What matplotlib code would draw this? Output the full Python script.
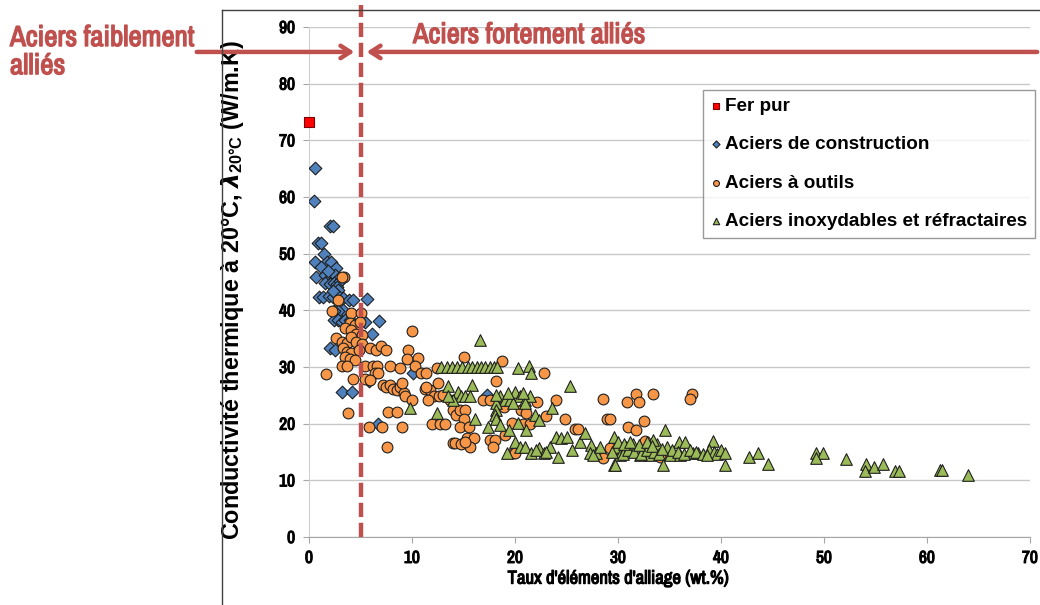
import matplotlib.pyplot as plt
import matplotlib.patheffects as pe
from matplotlib.lines import Line2D

narrow = ['Liberation Sans Narrow', 'Arial Narrow', 'Archivo Narrow', 'Roboto Condensed', 'DejaVu Sans']
arial = ['Liberation Sans', 'DejaVu Sans']
plt.rcParams['font.family'] = arial
plt.rcParams['font.weight'] = 'bold'

rouge = '#C0504D'
# the narrow face has no bold file here: thicken it with a stroke
gras_noir = [pe.withStroke(linewidth=0.8, foreground='black')]
gras_rouge = [pe.withStroke(linewidth=1.0, foreground=rouge)]

# Fer pur
fer_x = [0.0]
fer_y = [73.3]

# Aciers de construction
constr_x = [0.55, 0.5, 2.0, 2.3, 0.84, 1.17, 1.46, 0.55, 1.7, 2.1, 1.2, 2.6, 0.68, 1.6, 1.9,
            2.2, 2.5, 2.8, 1.6, 2.0, 2.4, 2.7, 3.0, 2.7, 2.8, 1.0, 1.4, 1.9, 2.3, 2.7, 3.3,
            3.9, 4.3, 5.6, 3.3, 2.8, 2.4, 2.4, 2.8, 3.2, 3.5, 4.0, 5.4, 6.8, 6.1, 2.0, 2.5,
            3.2, 4.2, 10.1, 5.8, 6.7, 17.3, 1.8, 2.3]
constr_y = [65.1, 59.3, 54.9, 54.9, 51.8, 51.8, 50.0, 48.6, 48.6, 48.6, 47.7, 47.4, 45.9, 46.2, 45.5,
            45.0, 46.2, 45.5, 44.8, 44.6, 44.8, 44.6, 45.2, 44.2, 43.6, 42.3, 42.3, 42.5, 42.3, 42.7, 42.1,
            41.8, 41.8, 42.0, 40.0, 39.9, 39.8, 38.3, 38.3, 38.0, 38.3, 38.3, 38.0, 38.1, 35.9, 33.4, 33.0,
            25.6, 25.6, 29.0, 27.5, 19.9, 25.1, 47.0, 43.4]

# Aciers a outils
outils_x = [3.4, 3.2, 2.8, 2.2, 4.1, 5.0, 4.0, 4.5, 4.95, 3.5, 4.1, 4.6, 5.1, 9.97, 2.6, 3.2,
            3.7, 4.1, 4.6, 5.1, 5.9, 6.5, 7.0, 7.5, 9.6, 3.3, 3.7, 4.1, 3.5, 4.0, 4.5, 4.9,
            9.5, 10.6, 3.2, 3.7, 5.4, 6.2, 6.6, 7.9, 8.8, 10.3, 12.4, 6.4, 6.7, 10.9, 11.4,
            1.65, 4.3, 5.4, 5.9, 7.2, 7.5, 7.9, 8.2, 8.5, 8.8, 9.2, 9.3, 10.0, 11.3, 11.7,
            12.1, 11.6, 12.6, 13.0, 14.0, 14.3, 7.7, 8.5, 3.8, 5.85, 7.1, 9.0, 11.9, 12.7,
            13.2, 7.6, 14.0, 15.0, 18.7, 22.8, 18.2, 24.0, 28.5, 28.9, 24.9, 23.0, 16.9, 17.6,
            22.1, 20.6, 21.1, 19.7, 20.8, 21.5, 13.7, 14.7, 15.1, 15.0, 14.7, 15.5, 15.3, 16.0,
            14.2, 14.8, 15.6, 15.1, 17.6, 18.1, 17.9, 19.0, 19.8, 25.8, 26.1, 28.5, 31.7, 33.4,
            37.2, 37.0, 30.9, 32.0, 29.2, 32.5, 31.0, 31.7, 32.6, 34.1, 12.5, 9.0, 11.4, 18.9,
            29.2, 20.0]
outils_y = [45.9, 45.9, 41.9, 39.9, 39.5, 39.6, 37.7, 37.4, 38.0, 36.8, 36.5, 35.9, 35.6, 36.4, 35.1, 34.5,
            34.2, 35.3, 34.5, 34.1, 33.3, 33.0, 33.7, 33.0, 33.0, 33.3, 32.7, 32.4, 31.8, 31.5, 31.2, 33.0,
            31.5, 31.6, 30.2, 30.2, 30.2, 30.2, 30.2, 30.2, 29.8, 30.2, 29.9, 29.0, 28.9, 28.9, 28.9,
            28.7, 27.8, 27.8, 27.7, 26.8, 26.5, 26.8, 26.2, 25.9, 26.5, 25.4, 24.8, 24.2, 26.2, 25.9,
            24.8, 24.2, 24.8, 25.1, 22.4, 21.5, 22.1, 22.1, 21.9, 19.4, 19.5, 19.5, 19.9, 19.9,
            19.9, 15.8, 16.6, 31.8, 31.1, 28.9, 27.5, 24.2, 24.3, 20.8, 20.9, 21.4, 24.2, 24.1,
            23.9, 22.4, 21.8, 20.2, 19.9, 19.9, 24.2, 22.4, 22.4, 20.9, 19.5, 19.5, 17.4, 17.4,
            16.6, 16.4, 15.9, 16.8, 17.1, 17.2, 15.9, 18.0, 14.8, 19.0, 19.0, 14.0, 25.2, 25.2,
            25.2, 24.4, 23.9, 23.9, 20.8, 20.5, 19.5, 18.9, 16.9, 14.2, 27.1, 27.1, 26.4, 23.0,
            15.7, 14.8]

# Aciers inoxydables et refractaires
inox_x = [12.8, 13.4, 13.9, 14.4, 14.9, 15.4, 15.8, 16.3, 16.7, 17.1, 17.6, 18.0, 18.3, 20.3, 21.4,
          21.6, 16.6, 15.8, 13.5, 25.3, 9.8, 12.4, 14.5, 14.8, 15.1, 15.6, 14.0, 13.5, 18.5, 19.0,
          19.5, 20.0, 20.5, 21.0, 21.5, 19.8, 21.0, 18.2, 18.2, 19.3, 20.8, 18.2, 18.1, 18.2, 16.1,
          17.4, 18.5, 20.3, 21.1, 21.9, 22.3, 23.6, 19.4, 20.0, 20.5, 21.0, 19.2, 21.6, 22.3, 22.8,
          23.4, 24.0, 24.5, 25.0, 25.5, 26.3, 26.8, 27.4, 27.9, 27.3, 29.6, 29.7, 29.6, 24.2, 27.6,
          28.3, 29.9, 30.2, 30.8, 31.5, 32.1, 33.1, 33.8, 34.6, 34.8, 35.0, 35.9, 36.5, 36.0, 37.3,
          37.8, 39.2, 29.4, 30.5, 31.0, 31.6, 32.2, 32.8, 33.5, 34.0, 35.2, 35.8, 36.4, 37.0, 37.6,
          38.3, 38.8, 39.3, 39.6, 40.0, 40.4, 29.7, 34.4, 40.4, 42.7, 43.6, 44.6, 49.2, 49.9, 49.2,
          52.1, 54.1, 54.0, 54.9, 55.7, 56.9, 57.3, 61.3, 61.5, 64.0, 33.4, 30.0, 30.6, 31.2, 32.0,
          32.8, 33.3, 22.0, 23.0, 34.3, 38.6]
inox_y = [30.0, 30.0, 30.0, 30.0, 30.0, 30.0, 30.0, 30.0, 30.0, 30.0, 30.0, 30.0, 30.0, 29.8, 30.1,
          28.9, 34.8, 26.8, 26.7, 26.6, 22.7, 21.9, 25.6, 24.8, 24.8, 24.8, 24.2, 24.8, 24.8, 24.2,
          24.2, 25.6, 24.8, 24.2, 24.8, 23.7, 23.7, 23.7, 25.0, 25.4, 25.4, 22.4, 21.5, 20.9, 20.9,
          19.5, 19.8, 20.1, 18.9, 21.5, 20.6, 22.7, 18.9, 16.8, 15.9, 15.9, 14.8, 14.8, 15.7, 14.8,
          15.9, 17.7, 17.4, 17.6, 15.4, 16.8, 18.3, 16.2, 14.8, 14.8, 17.7, 15.7, 12.7, 14.2, 14.5,
          15.9, 15.9, 14.5, 15.9, 16.5, 14.5, 14.5, 16.5, 18.9, 15.9, 14.5, 16.8, 16.8, 14.5, 14.8,
          14.8, 16.9, 15.0, 14.6, 15.3, 15.0, 14.6, 15.3, 15.0, 14.6, 15.3, 15.0, 14.6, 15.3, 15.0,
          14.6, 15.3, 15.0, 14.6, 15.3, 14.9, 12.7, 12.7, 12.7, 14.2, 14.8, 12.8, 14.8, 14.8, 13.9,
          13.7, 12.9, 11.7, 12.3, 12.8, 11.7, 11.7, 11.8, 11.8, 10.9, 17.1, 16.8, 16.4, 16.8, 16.2,
          16.8, 16.0, 15.3, 15.0, 15.6, 14.4]

xticks = [0, 10, 20, 30, 40, 50, 60, 70]
yticks = [0, 10, 20, 30, 40, 50, 60, 70, 80, 90]
limite = 5.0        # separation faiblement / fortement allies
y_fleche = 85.6

fig = plt.figure(figsize=(10.4, 6.05), dpi=100)
ax = fig.add_axes([309 / 1040, 68 / 605, 721 / 1040, 510 / 605])

ax.scatter(fer_x, fer_y, marker='s', s=55, c='#FF0000', edgecolors='#7F0000', linewidths=0.8,
           label='Fer pur', zorder=3, clip_on=False)
ax.scatter(constr_x, constr_y, marker='D', s=42, c='#4F81BD', edgecolors='#1F1F1F', linewidths=0.8,
           label='Aciers de construction', zorder=3)
ax.scatter(outils_x, outils_y, marker='o', s=60, c='#F79646', edgecolors='#1F1F1F', linewidths=0.8,
           label='Aciers à outils', zorder=3)
ax.scatter(inox_x, inox_y, marker='^', s=70, c='#9BBB59', edgecolors='#1F1F1F', linewidths=0.8,
           label='Aciers inoxydables et réfractaires', zorder=3)

ax.set_xlim(0, 70)
ax.set_ylim(0, 90)
ax.set_xticks(xticks)
ax.set_yticks(yticks)
for t in ax.get_xticklabels() + ax.get_yticklabels():
    t.set_family(narrow)
    t.set_fontsize(12.5)
    t.set_path_effects(gras_noir)
ax.tick_params(axis='both', length=4, color='#A6A6A6', pad=6)
ax.grid(axis='y', color='#C8C8C8', lw=1)
ax.set_axisbelow(True)
for s in ['top', 'right']:
    ax.spines[s].set_visible(False)
ax.spines['left'].set_color('#D0D0D0')
ax.spines['bottom'].set_color('#A6A6A6')

ax.set_xlabel("Taux d'éléments d'alliage (wt.%)", family=narrow, fontsize=13.5,
              path_effects=gras_noir)
ax.xaxis.set_label_coords(0.429, -0.066)
ax.set_ylabel(r"Conductivité thermique à 20°C, $\lambda_{\mathregular{20°C}}$ (W/m.K)",
              family=arial, fontsize=16.8, fontweight='bold')
ax.yaxis.set_label_coords(-0.087, 0.484)

# ligne de separation + fleches
ax.plot([limite, limite], [0, 93.9], color=rouge, lw=3.2, ls=(0, (3.2, 1.3)), clip_on=False, zorder=4)
ax.annotate('', xy=(limite - 0.6, y_fleche), xytext=(-10.9, y_fleche), annotation_clip=False,
            arrowprops=dict(arrowstyle='->,head_length=0.7,head_width=0.45', color=rouge, lw=3.2,
                            shrinkA=0, shrinkB=0))
ax.annotate('', xy=(limite + 0.6, y_fleche), xytext=(70.7, y_fleche), annotation_clip=False,
            arrowprops=dict(arrowstyle='->,head_length=0.7,head_width=0.45', color=rouge, lw=3.2,
                            shrinkA=0, shrinkB=0))
ax.text(10.1, 88.5, 'Aciers fortement alliés', color=rouge, family=narrow, fontsize=20.5,
        va='center', ha='left', path_effects=gras_rouge)
fig.text(10 / 1040, 1 - 24 / 605, 'Aciers faiblement\nalliés', color=rouge, family=narrow,
         fontsize=20.8, va='top', ha='left', linespacing=1.05, path_effects=gras_rouge)

leg = ax.legend(loc='upper left', bbox_to_anchor=(0.546, 0.876), fontsize=13.6, frameon=True,
                fancybox=False, edgecolor='#808080', labelspacing=1.12, handletextpad=0.2,
                handlelength=0.6, borderpad=0.4, markerscale=0.55, borderaxespad=0)
leg.get_frame().set_linewidth(1.0)
for t in leg.get_texts():
    t.set_fontweight('bold')

# cadre du graphique
fig.add_artist(Line2D([222 / 1040, 222 / 1040], [0, 1 - 10 / 605], color='#404040', lw=1))
fig.add_artist(Line2D([222 / 1040, 1], [1 - 10 / 605, 1 - 10 / 605], color='#404040', lw=1))

fig.savefig('out.png', dpi=100)
